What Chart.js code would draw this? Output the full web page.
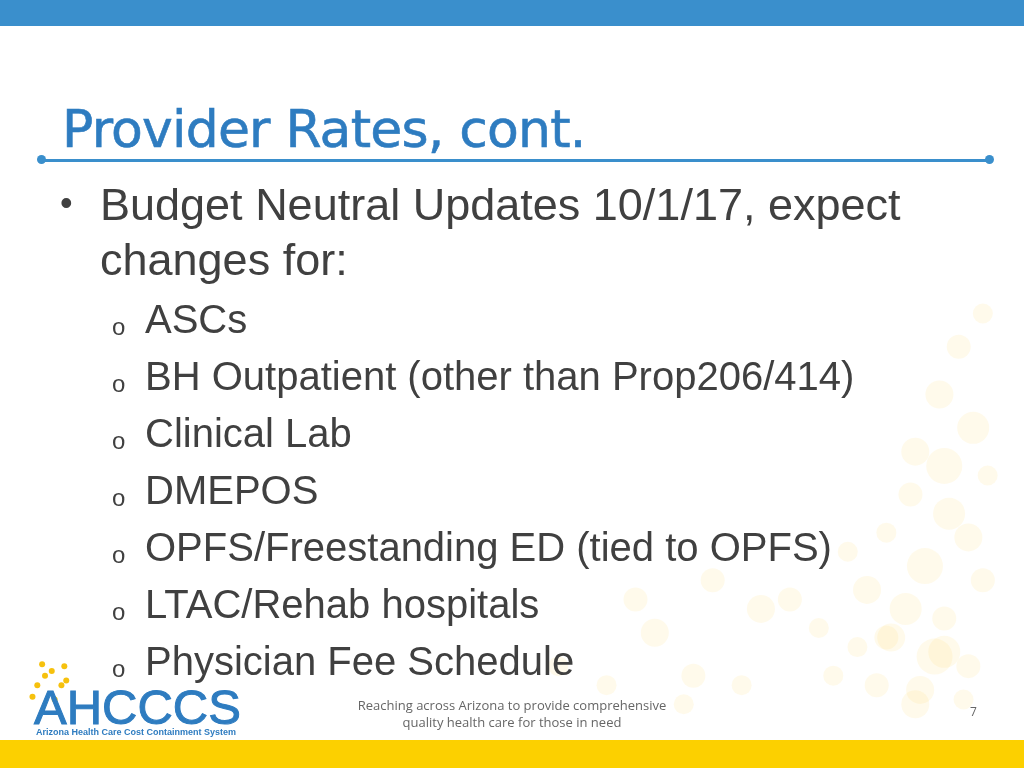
<!DOCTYPE html>
<html><head><meta charset="utf-8">
<script src="https://cdn.jsdelivr.net/npm/chart.js@4"></script>
<style>
html,body{margin:0;padding:0;width:1024px;height:768px;overflow:hidden;background:#fff;font-family:"Liberation Sans Narrow","Liberation Sans",sans-serif;}
#wrap{position:absolute;left:0;top:0;width:1024px;height:768px;}
canvas{position:absolute;left:0;top:0;}
.t{position:absolute;white-space:nowrap;color:#404040;}
</style></head><body>
<div id="wrap"><canvas id="c" width="1024" height="768"></canvas></div>
<div style="position:absolute;left:0;top:0;width:1024px;height:26px;background:#3a8fcc"></div>
<div style="position:absolute;left:0;top:740px;width:1024px;height:28px;background:#fcd000"></div>
<div class="t" style="left:62px;top:99px;font-family:'DejaVu Sans',sans-serif;font-size:52px;color:#2e7cc0;letter-spacing:-0.8px;-webkit-text-stroke:0.6px #2e7cc0">Provider Rates, cont.</div>
<div style="position:absolute;left:42px;top:158.5px;width:948px;height:3px;background:#3a8fcc"></div>
<div style="position:absolute;left:37px;top:155px;width:9px;height:9px;border-radius:50%;background:#3a8fcc"></div>
<div style="position:absolute;left:985px;top:155px;width:9px;height:9px;border-radius:50%;background:#3a8fcc"></div>
<div id="list"></div>
<div class="t" style="left:0;width:1024px;text-align:center;top:697px;font-family:'Open Sans',sans-serif;font-size:13px;color:#666;line-height:17px">Reaching across Arizona to provide comprehensive<br>quality health care for those in need</div>
<div class="t" style="left:970px;top:703px;font-family:'Open Sans',sans-serif;font-size:12px;color:#666">7</div>
<div class="t" style="left:34px;top:679px;font-family:'Liberation Sans',sans-serif;font-size:49px;color:#2e7cc0;-webkit-text-stroke:1px #2e7cc0">AHCCCS</div>
<div class="t" style="left:36px;top:727px;font-family:'Liberation Sans',sans-serif;font-weight:bold;font-size:9px;color:#2e7cc0">Arizona Health Care Cost Containment System</div>
<script>
const mainBullet = ["Budget Neutral Updates 10/1/17, expect", "changes for:"];
const subItems = ["ASCs","BH Outpatient (other than Prop206/414)","Clinical Lab","DMEPOS","OPFS/Freestanding ED (tied to OPFS)","LTAC/Rehab hospitals","Physician Fee Schedule"];
// decorative dots (x, y in slide pixels, radius)
const dotX = [1000,975,955,990,930,960,1005,925,965,985,900,940,1000,880,920,960,870,905,950,985,845,890,935,800,860,930,980,720,770,830,900,960,750,700,660,610,560,640,690,28,20,35,45,38,50,15,25,48];
const dotY = [310,345,395,430,455,470,480,500,520,545,540,575,590,600,620,630,660,650,670,680,690,700,705,610,560,720,715,590,620,640,650,665,700,690,645,700,680,610,720,690,700,685,700,715,695,712,678,680];
const dotR = [10,12,14,16,14,18,10,12,16,14,10,18,12,14,16,12,10,14,18,12,10,12,14,12,10,14,10,12,14,10,12,16,10,12,14,10,10,12,10,3,3,3,3,3,3,3,3,3];
const dotC = dotR.map((r,i)=> i>=39 ? 'rgba(245,190,0,0.95)' : 'rgba(252,215,90,0.12)');
new Chart(document.getElementById('c'), {
  type:'bubble',
  data:{datasets:[{data:dotX.map((x,i)=>({x:x,y:dotY[i],r:dotR[i]})),backgroundColor:dotC,borderWidth:0}]},
  options:{responsive:false,animation:false,layout:{padding:0},
    plugins:{legend:{display:false},tooltip:{enabled:false}},
    scales:{x:{type:'linear',min:0,max:1024,display:false},y:{type:'linear',min:0,max:768,reverse:true,display:false}}}
});
const L = document.getElementById('list');
let h = '';
h += `<div class="t" style="left:60px;top:182px;font-size:36px">•</div>`;
mainBullet.forEach((s,i)=>{ h += `<div class="t" style="left:100px;top:${179+i*55}px;font-size:45px">${s}</div>`; });
subItems.forEach((s,i)=>{ const y=297+i*57;
  h += `<div class="t" style="left:112px;top:${y+16}px;font-size:24px;font-family:'Liberation Sans',sans-serif">o</div>`;
  h += `<div class="t" style="left:145px;top:${y}px;font-size:40px">${s}</div>`; });
L.innerHTML = h;
</script>
</body></html>
